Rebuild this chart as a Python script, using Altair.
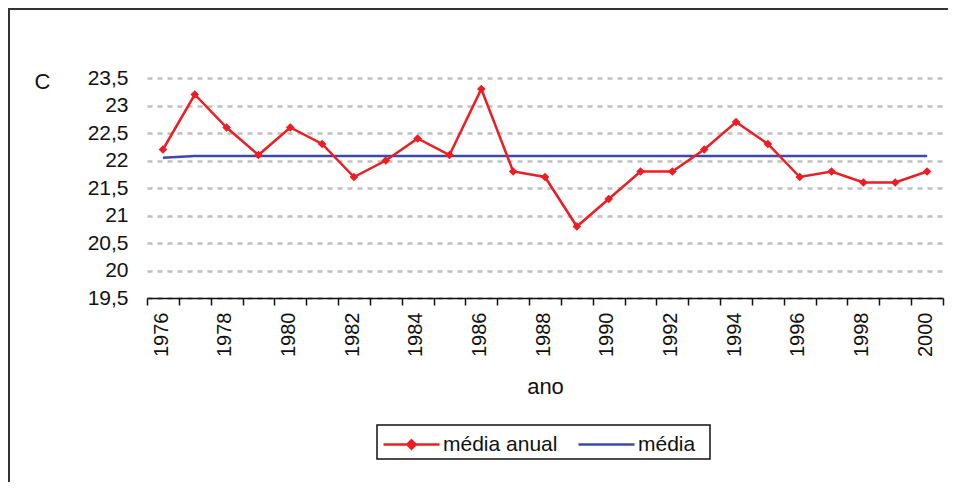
import altair as alt
import pandas as pd

years = list(range(1976, 2001))
media_anual = [22.2, 23.2, 22.6, 22.1, 22.6, 22.3, 21.7, 22.0, 22.4, 22.1,
               23.3, 21.8, 21.7, 20.8, 21.3, 21.8, 21.8, 22.2, 22.7, 22.3,
               21.7, 21.8, 21.6, 21.6, 21.8]
media = [22.05, 22.08, 22.08, 22.08, 22.08, 22.08, 22.08, 22.08, 22.08, 22.08,
         22.08, 22.08, 22.08, 22.08, 22.08, 22.08, 22.08, 22.08, 22.08, 22.08,
         22.08, 22.08, 22.08, 22.08, 22.08]
series_names = ["média anual", "média"]
y_ticks = [19.5, 20, 20.5, 21, 21.5, 22, 22.5, 23, 23.5]
x_tick_positions = [y - 0.5 for y in years] + [years[-1] + 0.5]

RED = "#ee1d23"
BLUE = "#3a4aa6"
FONT = "Liberation Sans"

df_red = pd.DataFrame({"ano": years, "valor": media_anual, "serie": series_names[0]})
df_blue = pd.DataFrame({"ano": years, "valor": media, "serie": series_names[1]})

W, H = 796, 220
PAD = {"left": 139, "top": 70, "right": 5, "bottom": 184}

x_enc = alt.X(
    "ano:Q",
    scale=alt.Scale(domain=[1975.5, 2000.5], nice=False, zero=False),
    axis=alt.Axis(
        values=x_tick_positions,
        tickCount=len(x_tick_positions),
        labelExpr="(datum.value + 0.5) % 2 == 0 ? toString(datum.value + 0.5) : ''",
        labelAngle=-90,
        labelOffset=14,
        labelPadding=7,
        labelFlush=False,
        labelOverlap=False,
        labelFont=FONT,
        labelFontSize=20,
        labelColor="#111111",
        tickSize=7,
        tickColor="#111111",
        tickWidth=1.5,
        domainColor="#111111",
        domainWidth=1.5,
        grid=False,
        title="ano",
        titleFont=FONT,
        titleFontSize=22,
        titleFontWeight="normal",
        titleColor="#111111",
        titleBaseline="alphabetic",
        titleY=95,
    ),
)

y_enc = alt.Y(
    "valor:Q",
    scale=alt.Scale(domain=[19.5, 23.5], nice=False, zero=False),
    axis=alt.Axis(
        values=y_ticks,
        tickCount=len(y_ticks),
        labelExpr="replace(format(datum.value, '.1~f'), '.', ',')",
        labelOverlap=False,
        labelFont=FONT,
        labelFontSize=21,
        labelColor="#111111",
        labelPadding=19,
        ticks=False,
        tickSize=0,
        domain=False,
        grid=True,
        gridColor="#c0c0c0",
        gridWidth=2.5,
        gridDash=[5, 5],
        title="C",
        titleAngle=0,
        titleAlign="center",
        titleBaseline="middle",
        titleX=-105,
        titleY=3,
        titleFont=FONT,
        titleFontSize=22,
        titleFontWeight="normal",
        titleColor="#111111",
    ),
)

SYM = 3136
LEG_Y = 337

legend_red = alt.Legend(
    title=None, orient="none", legendX=235, legendY=LEG_Y, direction="horizontal",
    padding=0, labelFont=FONT, labelFontSize=21, labelColor="#111111", labelOffset=2,
    symbolType="M-1,0L1,0M0,-0.15L0.15,0L0,0.15L-0.15,0Z",
    symbolSize=SYM, symbolStrokeWidth=2.5,
    symbolFillColor=RED, symbolStrokeColor=RED,
)
legend_blue = alt.Legend(
    title=None, orient="none", legendX=430, legendY=LEG_Y, direction="horizontal",
    padding=0, labelFont=FONT, labelFontSize=21, labelColor="#111111", labelOffset=2,
    symbolType="M-1,0L1,0",
    symbolSize=SYM, symbolStrokeWidth=2.5,
)

color_scale = alt.Scale(domain=[series_names[0]], range=[RED])
stroke_scale = alt.Scale(domain=[series_names[1]], range=[BLUE])

blue_line = alt.Chart(df_blue).mark_line(strokeWidth=2.5).encode(
    x=x_enc,
    y=y_enc,
    stroke=alt.Stroke("serie:N", scale=stroke_scale, legend=legend_blue),
)

red_line = alt.Chart(df_red).mark_line(strokeWidth=2.5).encode(
    x=x_enc,
    y=y_enc,
    color=alt.Color("serie:N", scale=color_scale, legend=legend_red),
)

red_points = alt.Chart(df_red).mark_point(shape="diamond", filled=True, size=75, opacity=1).encode(
    x=x_enc,
    y=y_enc,
    color=alt.Color("serie:N", scale=color_scale, legend=legend_red),
)

one = pd.DataFrame({"k": [0]})
legend_box = alt.Chart(one).mark_rect(fill="white", stroke="#111111", strokeWidth=1.5).encode(
    x=alt.value(230), x2=alt.value(563), y=alt.value(347), y2=alt.value(381)
)
frame_left = alt.Chart(one).mark_rule(color="#333333", strokeWidth=2).encode(
    x=alt.value(-138), y=alt.value(-70), y2=alt.value(H + PAD["bottom"])
)
frame_top = alt.Chart(one).mark_rule(color="#333333", strokeWidth=2).encode(
    x=alt.value(-139), x2=alt.value(W + PAD["right"]), y=alt.value(-69)
)

chart = alt.layer(blue_line, red_line, red_points, legend_box, frame_left, frame_top).properties(
    width=W,
    height=H,
    padding=PAD,
    autosize=alt.AutoSizeParams(type="none"),
    background="white",
).configure_view(stroke=None)

chart.save("out.html", embed_options={"renderer": "svg", "actions": False})
